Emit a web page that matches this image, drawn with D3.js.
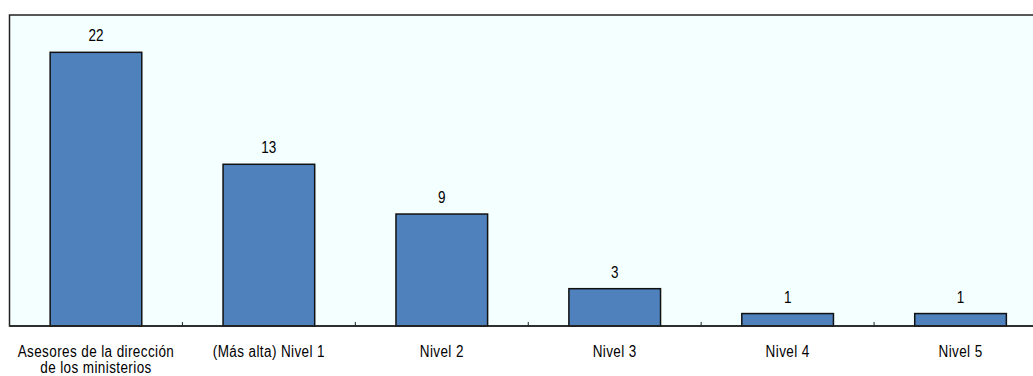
<!DOCTYPE html>
<html>
<head>
<meta charset="utf-8">
<script src="https://cdn.jsdelivr.net/npm/d3@7"></script>
<style>
  html, body { margin: 0; padding: 0; background: #ffffff; }
  svg { display: block; }
  text { font-family: "Liberation Sans", Arial, sans-serif; fill: #000; }
</style>
</head>
<body>
<svg id="chart" width="1033" height="376"></svg>
<script>
const categories = [
  ["Asesores de la dirección", "de los ministerios"],
  ["(Más alta) Nivel 1"],
  ["Nivel 2"],
  ["Nivel 3"],
  ["Nivel 4"],
  ["Nivel 5"]
];
const values = [22, 13, 9, 3, 1, 1];

const svg = d3.select("#chart");
const plotLeft = 9.5, plotRight = 1047, plotTop = 15, plotBottom = 326;
const fontSize = 13.5, stretchY = 1.2;

const x = d3.scaleBand()
  .domain(d3.range(categories.length))
  .range([plotLeft, plotRight])
  .paddingInner(0.47)
  .paddingOuter(0.235);

const y = d3.scaleLinear().domain([0, 25]).range([plotBottom, plotTop]);

// plot area
svg.append("rect")
  .attr("x", plotLeft).attr("y", plotTop)
  .attr("width", plotRight - plotLeft).attr("height", plotBottom - plotTop)
  .attr("fill", "#f4ffff")
  .attr("stroke", "#222").attr("stroke-width", 1.5);

// bars
svg.selectAll("rect.bar")
  .data(values)
  .join("rect")
  .attr("class", "bar")
  .attr("x", (d, i) => x(i))
  .attr("y", d => y(d))
  .attr("width", x.bandwidth())
  .attr("height", d => y(0) - y(d))
  .attr("fill", "#4f81bd")
  .attr("stroke", "#111")
  .attr("stroke-width", 1.5);

// value labels
svg.selectAll("text.val")
  .data(values)
  .join("text")
  .attr("class", "val")
  .attr("transform", (d, i) =>
    `translate(${x(i) + x.bandwidth() / 2},${y(d) - 11}) scale(1,${stretchY})`)
  .attr("text-anchor", "middle")
  .attr("font-size", fontSize)
  .text(d => d);

// x axis with ticks between categories
const step = x.step();
const axis = svg.append("g");
axis.append("line")
  .attr("x1", plotLeft).attr("x2", plotRight)
  .attr("y1", plotBottom).attr("y2", plotBottom)
  .attr("stroke", "#222").attr("stroke-width", 1.5);
axis.selectAll("line.tick")
  .data(d3.range(1, categories.length))
  .join("line")
  .attr("class", "tick")
  .attr("x1", i => x(i) - (step - x.bandwidth()) / 2)
  .attr("x2", i => x(i) - (step - x.bandwidth()) / 2)
  .attr("y1", plotBottom).attr("y2", plotBottom - 4)
  .attr("stroke", "#222").attr("stroke-width", 1);

// category labels
const lab = svg.selectAll("g.cat")
  .data(categories)
  .join("g")
  .attr("class", "cat")
  .attr("transform", (d, i) => `translate(${x(i) + x.bandwidth() / 2},0)`);
lab.selectAll("text")
  .data(d => d)
  .join("text")
  .attr("transform", (d, i) => `translate(0,${357 + i * 16}) scale(1,${stretchY})`)
  .attr("text-anchor", "middle")
  .attr("font-size", fontSize)
  .attr("letter-spacing", 0.4)
  .text(d => d);
</script>
</body>
</html>
